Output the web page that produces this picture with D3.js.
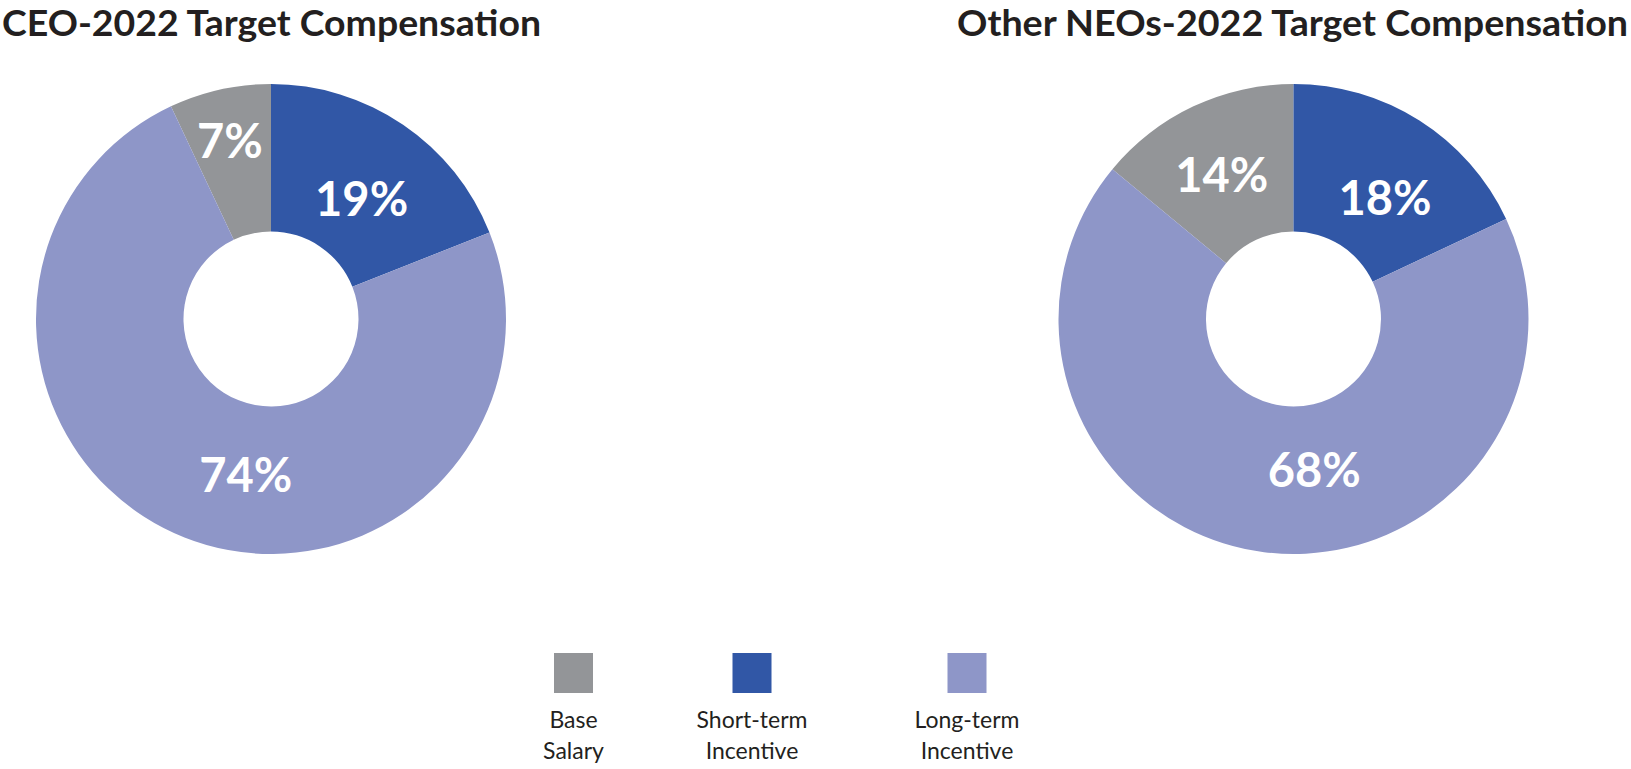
<!DOCTYPE html>
<html><head><meta charset="utf-8">
<script src="https://cdn.jsdelivr.net/npm/d3@7"></script>
<style>html,body{margin:0;padding:0;background:#fff;} svg{display:block;}</style>
</head><body>
<svg id="chart" width="1631" height="769"></svg>
<script>
// ---- data ----
const categories = ["Base Salary", "Short-term Incentive", "Long-term Incentive"];
const legendLines = [["Base", "Salary"], ["Short-term", "Incentive"], ["Long-term", "Incentive"]];
const chartTitles = ["CEO-2022 Target Compensation", "Other NEOs-2022 Target Compensation"];
const ceoValues = [7, 19, 74];
const neoValues = [14, 18, 68];
const seriesColors = ["#939598", "#3157a6", "#8e96c8"];

// ---- layout (not data) ----
const W = 1631, H = 769;
const pieCenters = [271, 1293.5];
const pieCy = 319;
const outerR = 235, innerR = 87.5;
const labelNudges = [
  [[-6, -21], [0, 13], [34, 6.5]],
  [[-3, 2], [5, 15], [41, -9]]
];
const titleWidths = [539, 671];
const legendCenters = [573.5, 752, 967];

const svg = d3.select("#chart");
const color = d3.scaleOrdinal().domain(categories).range(seriesColors);
const legendX = d3.scaleOrdinal().domain(categories).range(legendCenters);

const charts = [
  {title: chartTitles[0], values: ceoValues},
  {title: chartTitles[1], values: neoValues}
];

const arc = d3.arc().innerRadius(innerR).outerRadius(outerR);

charts.forEach((c, ci) => {
  const total = d3.sum(c.values);
  const start = -2 * Math.PI * c.values[0] / total; // base salary ends at 12 o'clock
  const pie = d3.pie().sort(null).value(d => d.value)
    .startAngle(start).endAngle(start + 2 * Math.PI);
  const data = categories.map((k, i) => ({key: k, value: c.values[i], idx: i}));
  const g = svg.append("g").attr("transform", `translate(${pieCenters[ci]},${pieCy})`);
  const arcs = pie(data);
  g.selectAll("path").data(arcs).join("path")
    .attr("d", arc)
    .attr("fill", d => color(d.data.key));
  g.selectAll("text").data(arcs).join("text")
    .attr("x", d => arc.centroid(d)[0] + labelNudges[ci][d.data.idx][0])
    .attr("y", d => arc.centroid(d)[1] + labelNudges[ci][d.data.idx][1])
    .attr("dy", "0.36em")
    .attr("text-anchor", "middle")
    .attr("font-family", "Lato, 'Open Sans', sans-serif")
    .attr("font-weight", 700)
    .attr("font-size", 47)
    .attr("fill", "#ffffff")
    .text(d => d.data.value + "%");

  // title
  const t = svg.append("text")
    .attr("x", ci === 0 ? 2 : 1628)
    .attr("y", 35.5)
    .attr("text-anchor", ci === 0 ? "start" : "end")
    .attr("font-family", "Lato, 'Open Sans', sans-serif")
    .attr("font-weight", 700)
    .attr("font-size", 35.5)
    .attr("fill", "#231f20")
    .text(c.title);
  t.attr("textLength", titleWidths[ci]).attr("lengthAdjust", "spacingAndGlyphs");
});

// legend
const lg = svg.append("g");
const items = lg.selectAll("g").data(categories).join("g")
  .attr("transform", d => `translate(${legendX(d)},0)`);
items.append("rect")
  .attr("x", -19.5).attr("y", 653).attr("width", 39).attr("height", 40)
  .attr("fill", d => color(d));
items.each(function(d, i) {
  const sel = d3.select(this);
  legendLines[i].forEach((line, li) => {
    sel.append("text")
      .attr("x", 0).attr("y", 728 + li * 31)
      .attr("text-anchor", "middle")
      .attr("font-family", "Lato, 'Open Sans', sans-serif")
      .attr("font-size", 23)
      .attr("fill", "#231f20")
      .text(line);
  });
});
</script>
</body></html>
